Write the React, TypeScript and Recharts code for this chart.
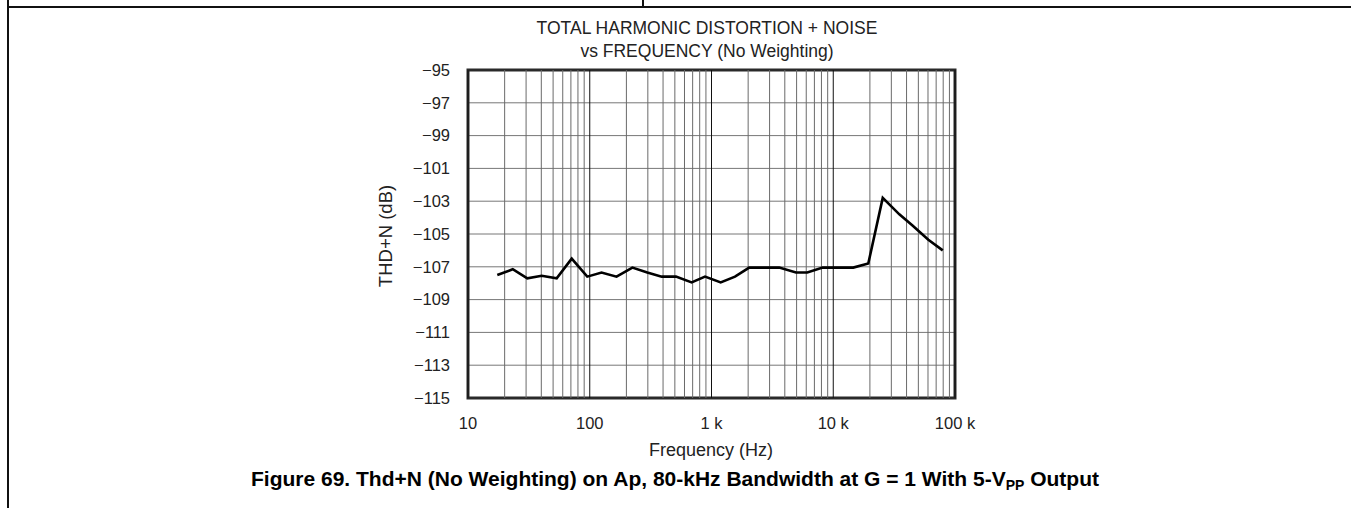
import React from "react";
import { LineChart, Line, XAxis, YAxis, CartesianGrid, ReferenceLine, ReferenceArea } from "recharts";

// values
const freqHz = [
  17.4, 23.3, 30.7, 40.3, 53.5, 71.1, 95.4, 125, 166, 224, 297, 390, 511, 687, 885, 1190, 1560,
  2040, 2700, 3600, 4940, 6120, 8190, 11000, 14600, 19400, 25500, 34900, 45000, 60400, 79300,
];
const thdN = [
  -107.5, -107.15, -107.7, -107.55, -107.7, -106.5, -107.6, -107.35, -107.6, -107.05, -107.35,
  -107.6, -107.6, -107.95, -107.6, -107.95, -107.6, -107.05, -107.05, -107.05, -107.35, -107.35,
  -107.05, -107.05, -107.05, -106.8, -102.8, -103.8, -104.5, -105.35, -106.0,
];

const xTicks = [10, 100, 1000, 10000, 100000];
const xTickLabels = ["10", "100", "1 k", "10 k", "100 k"];
const yTicks = [-115, -113, -111, -109, -107, -105, -103, -101, -99, -97, -95];
const minorGridHz = [
  20, 30, 40, 50, 60, 70, 80, 90,
  200, 300, 400, 500, 600, 700, 800, 900,
  2000, 3000, 4000, 5000, 6000, 7000, 8000, 9000,
  20000, 30000, 40000, 50000, 60000, 70000, 80000, 90000,
];

const data = freqHz.map((f, i) => ({ f, v: thdN[i] }));

const font = "'Liberation Sans', Arial, Helvetica, sans-serif";
const ink = "#222";

function Txt({ x, y, size, bold, rotate, children }: any) {
  return (
    <div
      style={{
        position: "absolute",
        left: x,
        top: y,
        transform: `translate(-50%, -50%)${rotate ? ` rotate(${rotate}deg)` : ""}`,
        whiteSpace: "nowrap",
        fontFamily: font,
        fontSize: size,
        fontWeight: bold ? 700 : 400,
        color: bold ? "#000" : ink,
        lineHeight: 1,
      }}
    >
      {children}
    </div>
  );
}

export default function App() {
  return (
    <div style={{ position: "absolute", left: 0, top: 0, width: 1351, height: 508, background: "#fff" }}>
      {/* page frame */}
      <div style={{ position: "absolute", left: 8, top: 6, width: 1343, height: 1.5, background: "#111" }} />
      <div style={{ position: "absolute", left: 7, top: 0, width: 1.5, height: 508, background: "#111" }} />
      <div style={{ position: "absolute", left: 642, top: 0, width: 1.5, height: 7, background: "#111" }} />

      <Txt x={707} y={28.5} size={17.5}>TOTAL HARMONIC DISTORTION + NOISE</Txt>
      <Txt x={707} y={51.5} size={17.5}>vs FREQUENCY (No Weighting)</Txt>
      <Txt x={386} y={236} size={18.5} rotate={-90}>THD+N (dB)</Txt>
      <Txt x={711} y={450} size={18}>Frequency (Hz)</Txt>
      <Txt x={675} y={480} size={21} bold>
        Figure 69. Thd+N (No Weighting) on Ap, 80-kHz Bandwidth at G = 1 With 5-V
        <sub style={{ fontSize: 14, verticalAlign: "-4px" }}>PP</sub> Output
      </Txt>

      <LineChart
        width={1351}
        height={508}
        data={data}
        margin={{ top: 70, right: 396, bottom: 80, left: 408 }}
        style={{ position: "absolute", left: 0, top: 0 }}
      >
        <CartesianGrid vertical={false} stroke="#777" strokeWidth={1} />
        <XAxis
          dataKey="f"
          type="number"
          scale="log"
          domain={[10, 100000]}
          ticks={xTicks}
          tickFormatter={(v: number) => xTickLabels[xTicks.indexOf(v)] ?? ""}
          height={30}
          axisLine={false}
          tickLine={false}
          tickSize={0}
          tickMargin={19}
          tick={{ fill: ink, fontSize: 16.5, fontFamily: font }}
          allowDataOverflow
        />
        <YAxis
          type="number"
          domain={[-115, -95]}
          ticks={yTicks}
          tickFormatter={(v: number) => `\u2212${Math.abs(v)}`}
          width={60}
          axisLine={false}
          tickLine={false}
          tickSize={0}
          tickMargin={18}
          tick={{ fill: ink, fontSize: 16.5, fontFamily: font }}
          interval={0}
        />
        {minorGridHz.map((f) => (
          <ReferenceLine key={`m${f}`} x={f} stroke="#6a6a6a" strokeWidth={1} />
        ))}
        {xTicks.map((f) => (
          <ReferenceLine key={`M${f}`} x={f} stroke="#111" strokeWidth={1} />
        ))}
        <ReferenceArea
          x1={10}
          x2={100000}
          y1={-115}
          y2={-95}
          fill="none"
          fillOpacity={0}
          stroke="#2a2a2a"
          strokeWidth={3}
          ifOverflow="visible"
        />
        <Line
          type="linear"
          dataKey="v"
          stroke="#000"
          strokeWidth={2.6}
          dot={false}
          isAnimationActive={false}
        />
      </LineChart>
    </div>
  );
}
